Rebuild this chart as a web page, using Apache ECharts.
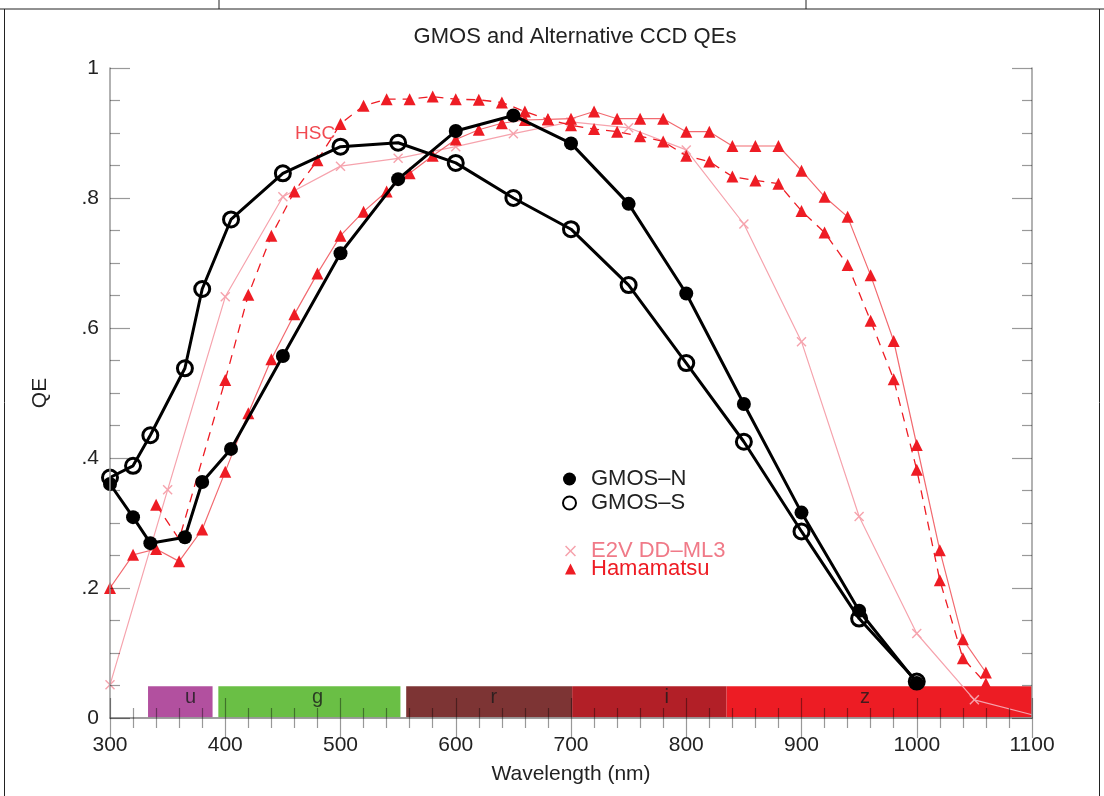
<!DOCTYPE html>
<html><head><meta charset="utf-8">
<script src="https://cdn.jsdelivr.net/npm/echarts@6/dist/echarts.min.js"></script>
<style>html,body{margin:0;padding:0;background:#fff}#c{width:1104px;height:796px}</style>
</head><body><div id="c"></div>
<script>
// ---- data ----
const gmosNX = [300,320,335,365,380,405,450,500,550,600,650,700,750,800,850,900,950,1000];
const gmosNY = [0.36,0.309,0.269,0.278,0.363,0.414,0.557,0.715,0.829,0.903,0.927,0.884,0.791,0.653,0.483,0.316,0.165,0.054];
const gmosSX = [300,320,335,365,380,405,450,500,550,600,650,700,750,800,850,900,950,1000];
const gmosSY = [0.37,0.388,0.435,0.538,0.660,0.767,0.838,0.879,0.885,0.854,0.800,0.752,0.666,0.546,0.425,0.287,0.153,0.056];
const e2vX = [300,350,400,450,500,550,600,650,700,750,800,850,900,950,1000,1050,1100];
const e2vY = [0.051,0.351,0.648,0.802,0.849,0.861,0.879,0.899,0.917,0.908,0.874,0.760,0.579,0.310,0.130,0.028,0.005];
const e2vNoMark = [1100];
const hamaX = [300,320,340,360,380,400,420,440,460,480,500,520,540,560,580,600,620,640,660,680,700,720,740,760,780,800,820,840,860,880,900,920,940,960,980,1000,1020,1040,1060];
const hamaY = [0.200,0.251,0.260,0.241,0.290,0.379,0.469,0.552,0.621,0.684,0.742,0.779,0.810,0.838,0.865,0.890,0.905,0.915,0.920,0.921,0.922,0.933,0.922,0.922,0.922,0.902,0.902,0.880,0.880,0.880,0.842,0.802,0.771,0.681,0.580,0.420,0.258,0.121,0.070];
const hscX = [340,360,400,420,440,460,480,500,520,540,560,580,600,620,640,660,680,700,720,740,760,780,800,820,840,860,880,900,920,940,960,980,1000,1020,1040,1060];
const hscY = [0.328,0.275,0.520,0.651,0.742,0.810,0.858,0.914,0.942,0.952,0.952,0.956,0.952,0.951,0.947,0.933,0.921,0.912,0.906,0.902,0.895,0.887,0.865,0.856,0.833,0.827,0.822,0.780,0.747,0.697,0.611,0.521,0.382,0.212,0.092,0.053];
const hscNoMark = [360];
const bandNames = ['u','g','r','i','z'];
const bandStart = [333,394,557,701,835];
const bandEnd = [389,552,701,835,1100];
const bandTop = 0.049;
const bandLabelX = [370,480,633,783,955];
const bandLabelY = 0.032;
const hscLabel = {x:478, y:0.899, text:'HSC'};
const nameN = 'GMOS\u2013N', nameS = 'GMOS\u2013S', nameE = 'E2V DD\u2013ML3', nameH = 'Hamamatsu';
// ---- style ----
const bandColors = ['#b2509f','#6abf45','#7d3434','#b21f27','#ed1c24'];
const FONT = 'Liberation Sans, Arial, Helvetica, sans-serif';
const TXT = '#222';
const AX = '#999';
const crossPath = 'path://M0,1L1,0L5,4L9,0L10,1L6,5L10,9L9,10L5,6L1,10L0,9L4,5Z';

const zip = (xs, ys, noMark) => xs.map((x, i) =>
  (noMark && noMark.indexOf(x) >= 0) ? {value:[x, ys[i]], symbol:'none'} : [x, ys[i]]);

const chart = echarts.init(document.getElementById('c'), null, {renderer:'canvas'});

const yFmt = v => (v === 0 ? '0' : v === 1 ? '1' : v.toFixed(1).replace(/^0/, ''));
const xFmt = v => String(Math.round(v));

const axisCommon = {
  axisLine:{show:true, lineStyle:{color:AX, width:1.5}},
  axisTick:{show:true, inside:true, length:20, lineStyle:{color:'rgba(0,0,0,0.4)', width:1.2}},
  minorTick:{show:true, length:10, lineStyle:{color:'rgba(0,0,0,0.4)', width:1.2}},
  splitLine:{show:false}
};

const option = {
  backgroundColor:'#fff',
  animation:false,
  title:{text:'GMOS and Alternative CCD QEs', left:570, top:21, textAlign:'center',
    textStyle:{fontFamily:FONT, fontSize:22, fontWeight:'normal', color:TXT}},
  grid:{left:110, right:72, top:68, bottom:78},
  xAxis:[
    Object.assign({type:'value', min:300, max:1100, interval:100, position:'bottom', z:5,
      name:'Wavelength (nm)', nameLocation:'middle', nameGap:46,
      nameTextStyle:{fontFamily:FONT, fontSize:21, color:TXT},
      axisLabel:{fontFamily:FONT, fontSize:21, color:TXT, margin:17, formatter:xFmt},
      }, axisCommon, {minorTick:Object.assign({}, axisCommon.minorTick, {splitNumber:5})}),
    Object.assign({type:'value', min:300, max:1100, interval:100, position:'top', z:5,
      axisLabel:{show:false}}, axisCommon, {minorTick:Object.assign({}, axisCommon.minorTick, {splitNumber:5})})
  ],
  yAxis:[
    Object.assign({type:'value', min:0, max:1, interval:0.2, position:'left', z:5,
      name:'QE', nameLocation:'middle', nameGap:59, nameRotate:90,
      nameTextStyle:{fontFamily:FONT, fontSize:21, color:TXT},
      axisLabel:{fontFamily:FONT, fontSize:21, color:TXT, margin:11, formatter:yFmt}},
      axisCommon, {minorTick:Object.assign({}, axisCommon.minorTick, {splitNumber:4})}),
    Object.assign({type:'value', min:0, max:1, interval:0.2, position:'right', z:5,
      axisLabel:{show:false}}, axisCommon, {minorTick:Object.assign({}, axisCommon.minorTick, {splitNumber:4})})
  ],
  legend:[
    {data:[{name:nameN, icon:'circle'}, {name:nameS, icon:'circle'}],
     orient:'vertical', left:557, top:463, itemWidth:13, itemHeight:13, itemGap:2,
     selectedMode:false,
     textStyle:{fontFamily:FONT, fontSize:22, lineHeight:22, color:TXT, padding:[0,0,0,10]}},
    {data:[{name:nameE, icon:crossPath, textStyle:{color:'#f07a88'}},
           {name:nameH, icon:'triangle', textStyle:{color:'#ee1c24'}}],
     orient:'vertical', left:560, top:535, itemWidth:11, itemHeight:11, itemGap:-4,
     selectedMode:false,
     textStyle:{fontFamily:FONT, fontSize:22, lineHeight:22, padding:[0,0,0,10]}}
  ],
  series:[
    {name:'bands', type:'scatter', symbolSize:0, silent:true, z:1,
     data: bandNames.map((n, i) => ({value:[bandLabelX[i], bandLabelY], name:n})),
     label:{show:true, position:'inside', formatter:p => p.name, fontFamily:FONT, fontSize:20, color:'#1a1a1a'},
     markArea:{silent:true, z:1,
       data: bandNames.map((n, i) => [
         {xAxis:bandStart[i], yAxis:0, itemStyle:{color:bandColors[i], opacity:1}},
         {xAxis:bandEnd[i], yAxis:bandTop}])}},
    {name:nameE, type:'line', z:2, data:zip(e2vX, e2vY, e2vNoMark),
     symbol:crossPath, symbolSize:10,
     lineStyle:{color:'#f6a3ad', width:1.2}, itemStyle:{color:'#f6a3ad'}},
    {name:'Hamamatsu HSC', type:'line', z:3, data:zip(hscX, hscY, hscNoMark),
     symbol:'triangle', symbolSize:12,
     lineStyle:{color:'#ee1c24', width:1.3, type:[9,7]}, itemStyle:{color:'#ee1c24'}},
    {name:nameH, type:'line', z:3, data:zip(hamaX, hamaY),
     symbol:'triangle', symbolSize:12,
     lineStyle:{color:'#f26a70', width:1.2}, itemStyle:{color:'#ee1c24'}},
    {name:nameS, type:'line', z:4, data:zip(gmosSX, gmosSY),
     symbol:'circle', symbolSize:15, showAllSymbol:true,
     lineStyle:{color:'#000', width:3},
     itemStyle:{color:'rgba(0,0,0,0)', borderColor:'#000', borderWidth:3}},
    {name:nameN, type:'line', z:4, data:zip(gmosNX, gmosNY),
     symbol:'circle', symbolSize:14, showAllSymbol:true,
     lineStyle:{color:'#000', width:3},
     itemStyle:{color:'#000'}},
    {name:'annot', type:'scatter', symbolSize:0, silent:true, z:6,
     data:[{value:[hscLabel.x, hscLabel.y], name:hscLabel.text}],
     label:{show:true, position:'inside', formatter:p => p.name, fontFamily:FONT, fontSize:19, color:'#ee1c24'}}
  ],
  graphic:[
    {type:'line', shape:{x1:0, y1:9, x2:1104, y2:9}, style:{stroke:'#222', lineWidth:1}},
    {type:'line', shape:{x1:219, y1:0, x2:219, y2:9}, style:{stroke:'#222', lineWidth:1}},
    {type:'line', shape:{x1:806, y1:0, x2:806, y2:9}, style:{stroke:'#222', lineWidth:1}},
    {type:'line', shape:{x1:4.5, y1:9, x2:4.5, y2:796}, style:{stroke:'#222', lineWidth:1}},
    {type:'line', shape:{x1:1099.5, y1:9, x2:1099.5, y2:796}, style:{stroke:'#222', lineWidth:1}}
  ]
};
chart.setOption(option);
</script></body></html>
